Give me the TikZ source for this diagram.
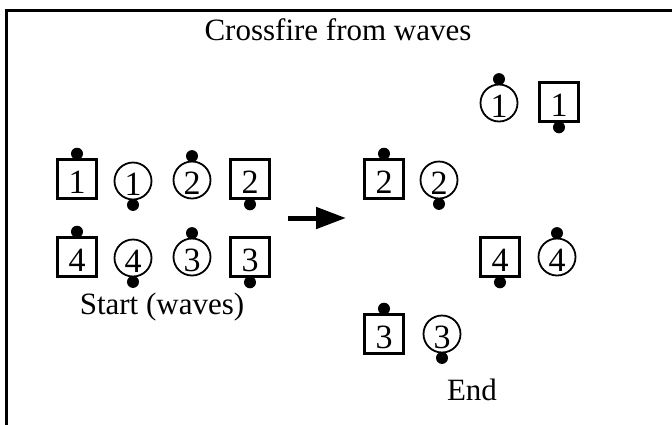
\documentclass[tikz,border=0pt]{standalone}
\usepackage{fontspec}
\setmainfont{Liberation Serif}
\usetikzlibrary{calc,arrows.meta}
\tikzset{
  txt/.style={font=\fontsize{31}{36}\selectfont, inner sep=0pt},
  sq/.style={draw, line width=2.6pt, minimum width=39pt, minimum height=39pt, inner sep=0pt, text height=29pt, text depth=0pt, font=\fontsize{34}{40}\selectfont},
  cir/.style={draw, circle, line width=1.8pt, minimum size=37pt, inner sep=0pt, text height=29pt, text depth=0pt, font=\fontsize{34}{40}\selectfont},
  dot/.style={circle, fill=black, minimum size=12pt, inner sep=0pt},
  frameline/.style={line width=3pt},
  bigarrow/.style={line width=5pt, -{Triangle[length=30pt,width=21pt]}}
}
\begin{document}
\begin{tikzpicture}[x=1pt,y=-1pt]
\useasboundingbox (0,0) rectangle (672,424);
\draw[frameline] (6.5,430) -- (6.5,10.5) -- (680,10.5);
\node[txt, anchor=base] (title) at (338,40) {Crossfire from waves};
% start configuration
\node[sq]  (s1l) at (77,179) {1};
\node[cir] (c1l) at (133,181) {1};
\node[cir] (c2l) at (192,180) {2};
\node[sq]  (s2l) at (250,179) {2};
\node[sq]  (s4l) at (77,257) {4};
\node[cir] (c4l) at (133,258) {4};
\node[cir] (c3l) at (192,257) {3};
\node[sq]  (s3l) at (250,257) {3};
\node[dot] (ds1l) at ($(s1l.north)+(0,-4.5)$) {};
\node[dot] (dc1l) at ($(c1l.south)+(0,4.5)$) {};
\node[dot] (dc2l) at ($(c2l.north)+(0,-4.5)$) {};
\node[dot] (ds2l) at ($(s2l.south)+(0,4.5)$) {};
\node[dot] (ds4l) at ($(s4l.north)+(0,-4.5)$) {};
\node[dot] (dc4l) at ($(c4l.south)+(0,4.5)$) {};
\node[dot] (dc3l) at ($(c3l.north)+(0,-4.5)$) {};
\node[dot] (ds3l) at ($(s3l.south)+(0,4.5)$) {};
\node[txt, anchor=base] (start) at (162,314) {Start (waves)};
% arrow
\coordinate (a0) at (288,218);
\coordinate (a1) at (346,218);
\draw[bigarrow] (a0) -- (a1);
% end configuration
\node[cir] (c1r) at (499,103) {1};
\node[sq]  (s1r) at (559,102) {1};
\node[sq]  (s2r) at (384,179) {2};
\node[cir] (c2r) at (439,180) {2};
\node[sq]  (s4r) at (500,257) {4};
\node[cir] (c4r) at (557,257) {4};
\node[sq]  (s3r) at (384,334) {3};
\node[cir] (c3r) at (442,334) {3};
\node[dot] (dc1r) at ($(c1r.north)+(0,-4.5)$) {};
\node[dot] (ds1r) at ($(s1r.south)+(0,4.5)$) {};
\node[dot] (ds2r) at ($(s2r.north)+(0,-4.5)$) {};
\node[dot] (dc2r) at ($(c2r.south)+(0,4.5)$) {};
\node[dot] (ds4r) at ($(s4r.south)+(0,4.5)$) {};
\node[dot] (dc4r) at ($(c4r.north)+(0,-4.5)$) {};
\node[dot] (ds3r) at ($(s3r.north)+(0,-4.5)$) {};
\node[dot] (dc3r) at ($(c3r.south)+(0,4.5)$) {};
\node[txt, anchor=base] (end) at (472,400) {End};
\end{tikzpicture}
\end{document}
